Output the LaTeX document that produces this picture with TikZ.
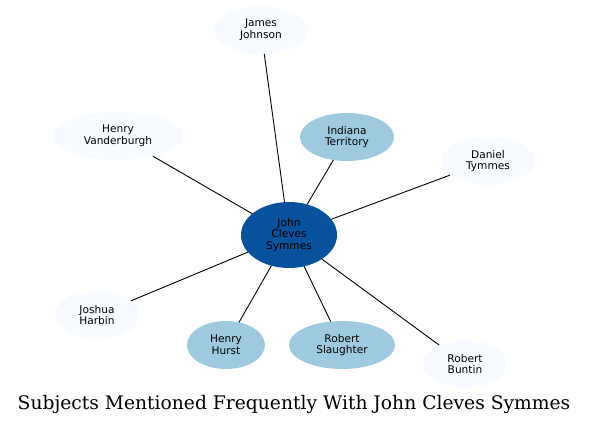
\documentclass[tikz,border=0pt]{standalone}
\usepackage{fontspec}
\setmainfont{DejaVu Sans}
\newfontfamily\titlefont{DejaVu Serif}
\usetikzlibrary{shapes.geometric}
\definecolor{lightc}{HTML}{F7FBFF}
\definecolor{midc}{HTML}{9ECAE1}
\definecolor{darkc}{HTML}{08519C}
\tikzset{
  ent/.style={ellipse, inner sep=0pt, outer sep=0pt, align=center,
    font=\fontsize{10.6}{11.8}\selectfont, text=black},
  lightn/.style={ent, fill=lightc},
  midn/.style={ent, fill=midc},
  darkn/.style={ent, fill=darkc},
  link/.style={draw=black, line width=0.9pt}
}
\begin{document}
\begin{tikzpicture}[x=1pt,y=-1pt]
\useasboundingbox[fill=white] (0,0) rectangle (589,425);
\node[darkn, minimum width=96pt, minimum height=66pt] (jcs) at (289,235) {John\\Cleves\\Symmes};
\node[lightn, minimum width=94pt, minimum height=48pt] (jj) at (261,30) {James\\Johnson};
\node[lightn, minimum width=130pt, minimum height=48pt] (hv) at (118,136) {Henry\\Vanderburgh};
\node[midn, minimum width=94pt, minimum height=48pt] (it) at (347,137) {Indiana\\Territory};
\node[lightn, minimum width=94pt, minimum height=48pt] (dt) at (488,161) {Daniel\\Tymmes};
\node[lightn, minimum width=84pt, minimum height=48pt] (jh) at (97,315) {Joshua\\Harbin};
\node[midn, minimum width=78pt, minimum height=48pt] (hh) at (226,345) {Henry\\Hurst};
\node[midn, minimum width=106pt, minimum height=48pt] (rs) at (342,345) {Robert\\Slaughter};
\node[lightn, minimum width=84pt, minimum height=48pt] (rb) at (465,364) {Robert\\Buntin};
\foreach \n in {jj,hv,it,dt,jh,hh,rs,rb} \draw[link] (jcs) -- (\n);
\node[font=\titlefont\fontsize{18.7}{21}\selectfont] (title) at (294,404) {Subjects Mentioned Frequently With John Cleves Symmes};
\end{tikzpicture}
\end{document}
